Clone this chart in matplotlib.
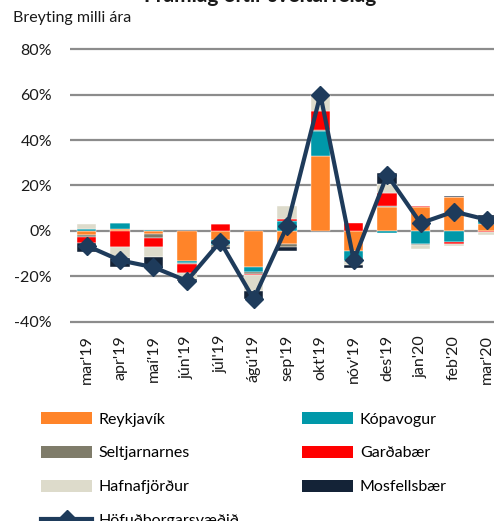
import numpy as np
import matplotlib
matplotlib.use("Agg")
import matplotlib.pyplot as plt
from matplotlib.patches import Patch
from matplotlib.lines import Line2D

plt.rcParams['font.family'] = ['Lato', 'DejaVu Sans']

categories = ["mar'19", "apr'19", "maí'19", "jún'19", "júl'19", "ágú'19", "sep'19",
              "okt'19", "nóv'19", "des'19", "jan'20", "feb'20", "mar'20"]

reykjavik     = [-2.0,  0.9, -1.5, -13.2, -4.2, -16.0, -5.7, 32.8, -9.0, 10.7, 10.7, 15.1,  3.2]
kopavogur     = [ 1.0,  2.5,  0.6,  -1.0, -1.8,  -2.0,  4.4, 11.0, -4.2, -1.0, -5.8, -5.0,  2.8]
seltjarnarnes = [-0.5,  0.0, -1.5,  -0.3, -1.2,  -0.8, -1.2,  0.7, -0.6,  0.4, -0.2,  0.0,  0.0]
gardabaer     = [-3.0, -7.0, -4.2,  -4.0,  3.2,  -0.8,  0.7,  8.4,  3.4,  5.6,  0.4, -0.6, -0.4]
hafnarfjordur = [ 2.0, -5.0, -4.4,  -2.5,  0.0,  -7.0,  6.0,  7.0, -1.2,  4.0, -1.8, -1.2, -1.6]
mosfellsbaer  = [-3.8, -4.0, -4.6,  -1.0, -0.8,  -3.4, -1.9,  0.0, -1.4,  5.0,  0.0,  0.4,  0.8]
hofudborg     = [-6.5, -13.0, -16.0, -22.0, -4.7, -30.0, 2.0, 60.0, -13.0, 24.7, 3.4, 8.5, 4.9]

series_names = ["Reykjavík", "Kópavogur", "Seltjarnarnes", "Garðabær", "Hafnafjörður", "Mosfellsbær"]
series_vals = [reykjavik, kopavogur, seltjarnarnes, gardabaer, hafnarfjordur, mosfellsbaer]
series_colors = ["#FF8429", "#0098A9", "#7F7C6A", "#FF0000", "#DDDBCB", "#142337"]
line_name = "Höfuðborgarsvæðið"
line_color = "#1E3B5B"

yticks = [-40, -20, 0, 20, 40, 60, 80]
ytick_labels = ["-40%", "-20%", "0%", "20%", "40%", "60%", "80%"]

W, H = 494, 521
fig = plt.figure(figsize=(W / 100, H / 100), dpi=100)

ppu = (321.7 - 49.3) / 120.0
top_px = 49.3 - ppu * 1.0
bot_px = 321.7 + ppu * 1.0
left_px, right_px = 70, 504
ax = fig.add_axes([left_px / W, 1 - bot_px / H, (right_px - left_px) / W, (bot_px - top_px) / H])
ax.set_xlim(-0.5, len(categories) - 0.5)
ax.set_ylim(-41, 81)

x = np.arange(len(categories))
pos_bottom = np.zeros(len(categories))
neg_bottom = np.zeros(len(categories))
for name, vals, col in zip(series_names, series_vals, series_colors):
    v = np.array(vals, dtype=float)
    bottom = np.where(v >= 0, pos_bottom, neg_bottom)
    ax.bar(x, v, bottom=bottom, width=0.58, color=col, label=name, zorder=2,
           edgecolor='white', linewidth=0.3)
    pos_bottom = pos_bottom + np.where(v > 0, v, 0)
    neg_bottom = neg_bottom + np.where(v < 0, v, 0)

ax.plot(x, hofudborg, color=line_color, lw=3.0, marker='D', ms=9.5,
        zorder=4, label=line_name, clip_on=False)

ax.set_yticks(yticks)
ax.set_yticklabels(ytick_labels)
ax.yaxis.grid(True, color='#8C8C8C', lw=1.6, zorder=0)
ax.set_axisbelow(True)
for s in ax.spines.values():
    s.set_visible(False)
ax.tick_params(axis='y', length=0, pad=13, labelsize=11.5, labelcolor='#1A1A1A')
ax.set_xticks(x)
ax.set_xticklabels(categories, rotation=90, ha='center', va='top')
ax.tick_params(axis='x', length=0, pad=8, labelsize=11.5, labelcolor='#1A1A1A')

fig.text(13 / W, 1 - 22 / H, "Breyting milli ára", fontsize=11.5, color='#1A1A1A',
         ha='left', va='baseline')
fig.text(260 / W, 1 - 1.5 / H, "Framlag eftir sveitarfélag", fontsize=15, fontweight='bold',
         ha='center', va='baseline', color='#1A1A1A')

handles = {}
for name, col in zip(series_names, series_colors):
    handles[name] = Patch(facecolor=col, edgecolor='none')
handles[line_name] = Line2D([0], [0], color=line_color, lw=3.0, marker='D', ms=9.5)
order = ["Reykjavík", "Seltjarnarnes", "Hafnafjörður", line_name,
         "Kópavogur", "Garðabær", "Mosfellsbær"]
fig.legend([handles[n] for n in order], order, ncol=2, loc='upper left',
           bbox_to_anchor=(33 / W, 1 - 404 / H), frameon=False, fontsize=11.5,
           handlelength=3.2, handleheight=0.8, handletextpad=0.4,
           labelspacing=1.2, columnspacing=3.95, borderaxespad=0, borderpad=0.5)

fig.savefig("out.png", dpi=100)
